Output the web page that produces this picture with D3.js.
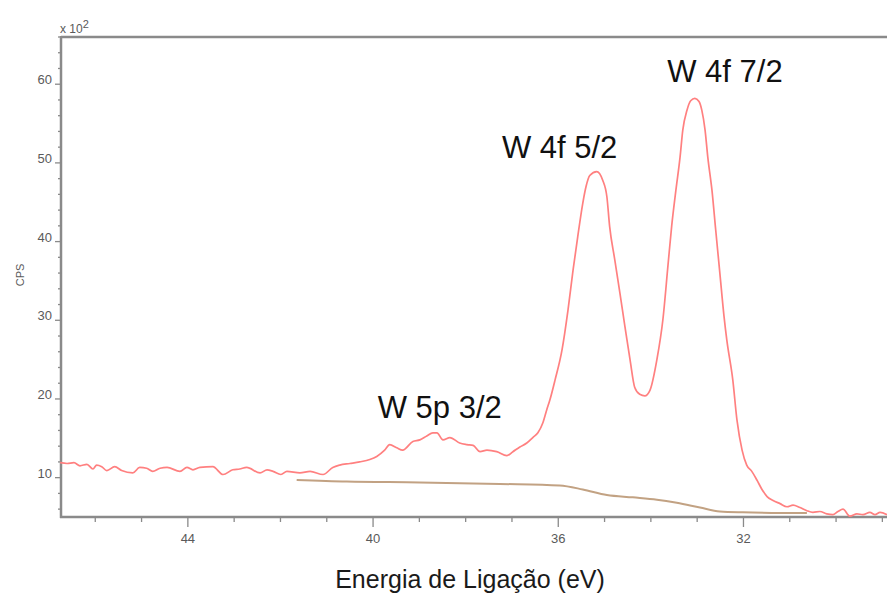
<!DOCTYPE html>
<html>
<head>
<meta charset="utf-8">
<script src="https://cdn.jsdelivr.net/npm/d3@7"></script>
<style>
  body { margin: 0; background: #fff; }
  svg { display: block; font-family: Arial, "Liberation Sans", sans-serif; }
</style>
</head>
<body>
<div id="chart"></div>
<script>
// binding energy (eV) and counts (x10^2 CPS)
const energy = [46.76, 46.61, 46.46, 46.33, 46.18, 46.05, 45.97, 45.86, 45.75, 45.58, 45.43, 45.19, 45.04, 44.89, 44.76, 44.60, 44.45, 44.17, 44.02, 43.89, 43.74, 43.46, 43.24, 43.03, 42.88, 42.73, 42.44, 42.29, 42.16, 41.99, 41.86, 41.58, 41.36, 41.08, 40.87, 40.72, 40.50, 40.29, 40.07, 39.92, 39.75, 39.64, 39.49, 39.36, 39.14, 38.99, 38.84, 38.71, 38.62, 38.49, 38.34, 38.13, 37.97, 37.84, 37.69, 37.54, 37.33, 37.11, 36.98, 36.83, 36.68, 36.55, 36.44, 36.33, 36.25, 36.18, 36.07, 35.92, 35.79, 35.68, 35.58, 35.47, 35.40, 35.32, 35.17, 35.04, 34.95, 34.89, 34.78, 34.67, 34.56, 34.45, 34.35, 34.24, 34.13, 34.02, 33.87, 33.74, 33.63, 33.55, 33.46, 33.37, 33.31, 33.22, 33.14, 33.05, 32.96, 32.90, 32.83, 32.77, 32.68, 32.60, 32.51, 32.42, 32.36, 32.23, 32.14, 32.03, 31.93, 31.82, 31.71, 31.60, 31.49, 31.36, 31.21, 31.06, 30.93, 30.78, 30.63, 30.50, 30.35, 30.20, 30.07, 29.96, 29.85, 29.70, 29.55, 29.42, 29.27, 29.16, 29.05, 28.90];
const cps = [11.9, 11.8, 11.9, 11.5, 11.7, 11.1, 11.6, 11.4, 10.9, 11.4, 10.9, 10.6, 11.3, 11.2, 10.8, 11.2, 11.3, 10.8, 11.3, 11.0, 11.3, 11.4, 10.4, 11.0, 11.1, 11.3, 10.6, 11.0, 10.8, 10.4, 10.8, 10.6, 10.8, 10.4, 11.3, 11.6, 11.8, 12.0, 12.3, 12.7, 13.5, 14.2, 13.8, 13.5, 14.6, 14.8, 15.3, 15.7, 15.7, 14.8, 15.1, 14.4, 14.2, 14.1, 13.3, 13.5, 13.3, 12.8, 13.3, 13.9, 14.4, 15.1, 15.7, 17.0, 18.6, 19.9, 22.4, 26.2, 31.3, 36.4, 40.6, 44.9, 47.0, 48.4, 48.9, 47.8, 45.7, 41.9, 37.7, 33.5, 29.2, 25.0, 21.5, 20.6, 20.4, 21.1, 25.0, 30.1, 37.0, 42.0, 46.5, 50.7, 54.2, 56.7, 57.9, 58.2, 57.8, 56.7, 54.2, 50.7, 46.5, 41.5, 36.0, 30.5, 27.5, 22.4, 17.3, 13.5, 11.6, 10.8, 9.7, 8.5, 7.6, 7.1, 6.7, 6.3, 6.5, 6.2, 5.8, 5.6, 5.7, 5.4, 5.3, 5.7, 6.0, 5.1, 5.4, 5.3, 5.6, 5.3, 5.6, 5.3];

// background (baseline) curve
const bgEnergy = [41.65, 40.57, 38.99, 37.26, 35.97, 35.47, 34.95, 34.39, 33.87, 33.44, 32.94, 32.51, 32.01, 30.63];
const bgCps = [9.7, 9.5, 9.4, 9.2, 9.0, 8.5, 7.8, 7.5, 7.2, 6.8, 6.2, 5.7, 5.6, 5.5];

// peak annotations: label centre (eV) and baseline (x10^2 CPS)
const peakNames = ["W 5p 3/2", "W 4f 5/2", "W 4f 7/2"];
const peakLabelEnergy = [38.56, 35.97, 32.40];
const peakLabelCps = [17.6, 50.6, 60.25];

const xTickLabels = [44, 40, 36, 32];
const yTickLabels = [10, 20, 30, 40, 50, 60];

const W = 887, H = 597;
const plot = { left: 61, right: 887, top: 37, bottom: 517 };

const svg = d3.select("#chart").append("svg")
  .attr("width", W)
  .attr("height", H);

const x = d3.scaleLinear().domain([46.74, 28.9]).range([plot.left, plot.right]);
const y = d3.scaleLinear().domain([5, 66]).range([plot.bottom, plot.top]);

const axisColor = "#8a8a8a";
const tickText = "#5a5a5a";

// top frame line
svg.append("line")
  .attr("x1", plot.left).attr("x2", plot.right)
  .attr("y1", plot.top).attr("y2", plot.top)
  .attr("stroke", axisColor).attr("stroke-width", 2.5);

// x axis - minor ticks every 1 eV, labelled every 4
const xMinor = d3.range(29, 47, 1);
const xAxis = svg.append("g").attr("transform", `translate(0, ${plot.bottom})`);
xAxis.append("line")
  .attr("x1", plot.left - 1).attr("x2", plot.right)
  .attr("stroke", axisColor).attr("stroke-width", 2.5);
xAxis.selectAll(".xt")
  .data(xMinor)
  .enter().append("line")
  .attr("x1", d => x(d)).attr("x2", d => x(d))
  .attr("y1", 0).attr("y2", d => xTickLabels.includes(d) ? 10 : 5)
  .attr("stroke", axisColor).attr("stroke-width", 1.3);
xAxis.selectAll(".xl")
  .data(xTickLabels)
  .enter().append("text")
  .attr("x", d => x(d)).attr("y", 26)
  .attr("text-anchor", "middle")
  .attr("font-size", 13)
  .attr("fill", tickText)
  .text(d => d);

// y axis - minor ticks every 2, labelled every 10
const yMinor = d3.range(6, 67, 2);
const yAxis = svg.append("g").attr("transform", `translate(${plot.left}, 0)`);
yAxis.append("line")
  .attr("y1", plot.top - 1).attr("y2", plot.bottom + 1)
  .attr("stroke", axisColor).attr("stroke-width", 2.5);
yAxis.selectAll(".yt")
  .data(yMinor)
  .enter().append("line")
  .attr("y1", d => y(d)).attr("y2", d => y(d))
  .attr("x1", d => yTickLabels.includes(d) ? -6 : -3).attr("x2", 1)
  .attr("stroke", axisColor).attr("stroke-width", 1.3);
yAxis.selectAll(".yl")
  .data(yTickLabels)
  .enter().append("text")
  .attr("x", -9).attr("y", d => y(d))
  .attr("text-anchor", "end")
  .attr("font-size", 13)
  .attr("fill", tickText)
  .text(d => d);

// x 10^2 multiplier
const mult = svg.append("text")
  .attr("x", plot.left - 1).attr("y", 33)
  .attr("font-size", 12)
  .attr("fill", tickText);
mult.append("tspan").text("x 10");
mult.append("tspan").attr("dy", -5).attr("font-size", 11).text("2");

// y label
svg.append("text")
  .attr("transform", "translate(24, 275) rotate(-90)")
  .attr("text-anchor", "middle")
  .attr("font-size", 11)
  .attr("fill", tickText)
  .text("CPS");

// x label
svg.append("text")
  .attr("x", 470).attr("y", 588)
  .attr("text-anchor", "middle")
  .attr("font-size", 25)
  .attr("fill", "#1a1a1a")
  .text("Energia de Ligação (eV)");

const line = d3.line()
  .x(d => x(d[0]))
  .y(d => y(d[1]))
  .curve(d3.curveMonotoneX);

svg.append("path")
  .datum(bgEnergy.map((e, i) => [e, bgCps[i]]))
  .attr("d", line)
  .attr("fill", "none")
  .attr("stroke", "#c2a283")
  .attr("stroke-width", 2);

svg.append("path")
  .datum(energy.map((e, i) => [e, cps[i]]))
  .attr("d", line)
  .attr("fill", "none")
  .attr("stroke", "#ff8080")
  .attr("stroke-width", 1.7);

svg.selectAll(".peak")
  .data(peakNames)
  .enter().append("text")
  .attr("x", (d, i) => x(peakLabelEnergy[i]))
  .attr("y", (d, i) => y(peakLabelCps[i]))
  .attr("text-anchor", "middle")
  .attr("font-size", 31)
  .attr("fill", "#111")
  .text(d => d);
</script>
</body>
</html>
